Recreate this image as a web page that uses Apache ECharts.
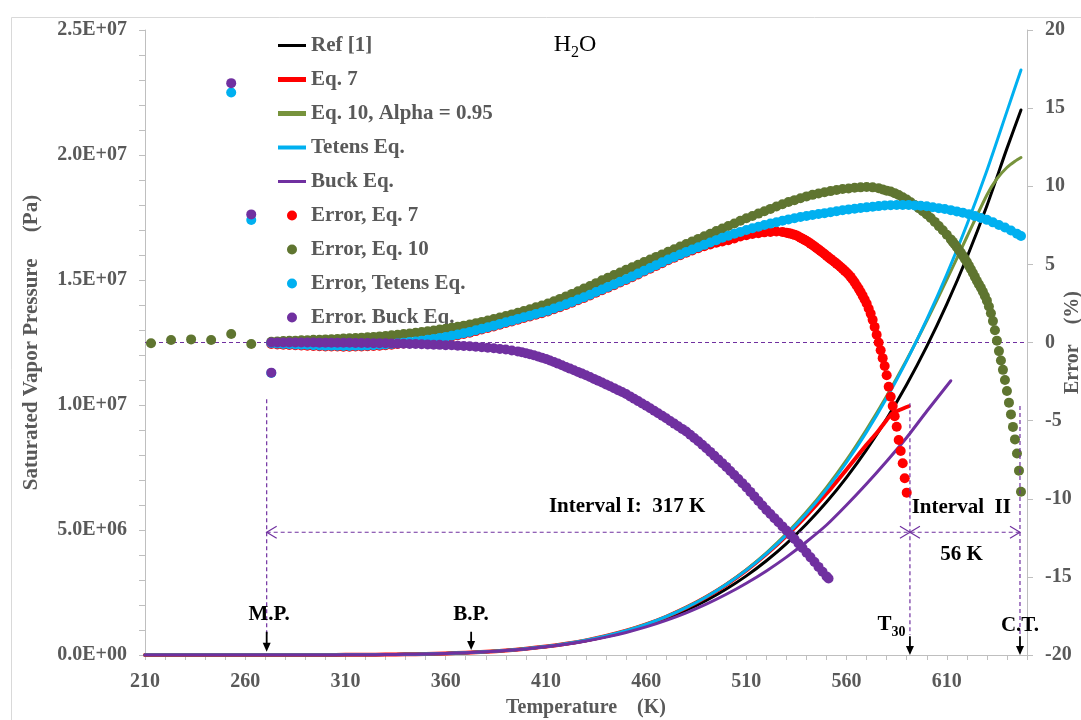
<!DOCTYPE html>
<html>
<head>
<meta charset="utf-8">
<title>H2O saturated vapor pressure</title>
<script src="https://cdn.jsdelivr.net/npm/echarts@6/dist/echarts.min.js"></script>
<style>
  html, body { margin: 0; padding: 0; background: #ffffff; }
  #chart { width: 1081px; height: 720px; }
</style>
</head>
<body>
<div id="chart"></div>
<script>
// ---------- Saturated vapor pressure curves, [T (K), P (Pa)] ----------
const refCurve = [[210,1],[220,3],[230,9],[240,27],[250,76],[260,196],[270,470],[280,990],[290,1920],[300,3537],[310,6230],[320,10550],[330,17200],[340,27190],[350,41680],[360,62200],[370,90600],[380,129000],[390,180000],[400,245800],[410,330300],[420,437000],[430,570000],[440,733700],[450,932000],[460,1170000],[470,1455000],[480,1791000],[490,2183000],[500,2639000],[510,3165000],[520,3769000],[530,4457000],[540,5237000],[550,6117000],[560,7106000],[570,8213000],[580,9448000],[590,10821000],[600,12345000],[610,14033000],[620,15901000],[630,17969000],[640,20265000],[647,21800000]];

const eq7Curve = [[210,1],[220,3],[230,9],[240,27],[250,76],[260,196],[270,469],[280,989],[290,1916],[300,3528],[310,6213],[320,10525],[330,17170],[340,27180],[350,41720],[360,62390],[370,91100],[380,130100],[390,182200],[400,249500],[410,336800],[420,447500],[430,586200],[440,758800],[450,969300],[460,1223600],[470,1530000],[480,1894000],[490,2318000],[500,2810500],[510,3382100],[520,4035500],[530,4769900],[540,5577400],[550,6459600],[560,7424300],[570,8418300],[575,8880000],[580,9400000],[583,9680000],[587,9820000],[591,9950000]];

const eq10Curve = [[210,1],[220,3],[230,9],[240,27],[250,76],[260,196],[270,471],[280,991],[290,1923],[300,3544],[310,6246],[320,10584],[330,17272],[340,27340],[350,41970],[360,62750],[370,91600],[380,130800],[390,183100],[400,250800],[410,338400],[420,449900],[430,590000],[440,763800],[450,975300],[460,1230800],[470,1538700],[480,1903800],[490,2332500],[500,2834300],[510,3416600],[520,4087500],[530,4855900],[540,5726700],[550,6707300],[560,7806000],[570,9031800],[580,10364500],[590,11811100],[600,13369600],[610,15015300],[620,16719900],[630,18400000],[635,19050000],[640,19500000],[644,19750000],[647,19900000]];

const tetensCurve = [[210,1],[220,3],[230,9],[240,27],[250,76],[260,196],[270,469],[280,989],[290,1917],[300,3530],[310,6216],[320,10530],[330,17180],[340,27190],[350,41740],[360,62420],[370,91150],[380,130200],[390,182300],[400,249900],[410,336900],[420,447700],[430,586800],[440,759400],[450,969700],[460,1224400],[470,1531400],[480,1894900],[490,2320500],[500,2818500],[510,3392900],[520,4053500],[530,4806800],[540,5661200],[550,6624700],[560,7710000],[570,8923400],[580,10277300],[590,11773200],[600,13421500],[610,15229000],[620,17212800],[630,19379600],[640,21744300],[647,23400000]];

const buckCurve = [[210,1],[220,3],[230,9],[240,27],[250,76],[260,196],[270,470],[280,990],[290,1920],[300,3537],[310,6229],[320,10547],[330,17190],[340,27170],[350,41630],[360,62090],[370,90420],[380,128700],[390,179200],[400,244200],[410,326500],[420,430000],[430,558000],[440,714000],[450,901200],[460,1122600],[470,1384400],[480,1688000],[490,2034000],[500,2429000],[510,2871000],[520,3364000],[530,3916000],[540,4530000],[550,5200000],[560,6000000],[570,6850000],[580,7750000],[590,8700000],[600,9750000],[612,10970000]];

// ---------- Relative errors, [T (K), error (%)] ----------
const errEq7 = [[273,-0.1],[276,-0.12],[279,-0.14],[282,-0.16],[285,-0.18],[288,-0.19],[291,-0.2],[294,-0.22],[297,-0.24],[300,-0.25],[303,-0.26],[306,-0.26],[309,-0.27],[312,-0.27],[315,-0.26],[318,-0.25],[321,-0.24],[324,-0.22],[327,-0.2],[330,-0.17],[333,-0.14],[336,-0.1],[339,-0.06],[342,-0.02],[345,0.02],[348,0.07],[351,0.12],[354,0.18],[357,0.24],[360,0.3],[363,0.38],[366,0.46],[369,0.54],[372,0.63],[375,0.73],[378,0.83],[381,0.93],[384,1.03],[387,1.14],[390,1.25],[393,1.35],[396,1.46],[399,1.57],[402,1.67],[405,1.78],[408,1.88],[411,1.99],[414,2.13],[417,2.26],[420,2.4],[423,2.55],[426,2.7],[429,2.85],[432,3.01],[435,3.18],[438,3.34],[441,3.51],[444,3.67],[447,3.84],[450,4.0],[453,4.18],[456,4.36],[459,4.54],[462,4.72],[465,4.9],[468,5.08],[471,5.26],[474,5.42],[477,5.59],[480,5.75],[483,5.89],[486,6.03],[489,6.16],[492,6.27],[495,6.38],[498,6.46],[501,6.54],[504,6.66],[507,6.78],[510,6.86],[513,6.94],[516,7.0],[519,7.05],[522,7.08],[525,7.1],[528,7.08],[530,7.03],[531,7.0],[532,6.97],[533,6.93],[534,6.89],[535,6.85],[536,6.78],[537,6.71],[538,6.64],[539,6.57],[540,6.5],[541,6.42],[542,6.33],[543,6.24],[544,6.15],[545,6.05],[546,5.96],[547,5.86],[548,5.76],[549,5.66],[550,5.55],[551,5.45],[552,5.35],[553,5.25],[554,5.15],[555,5.05],[556,4.94],[557,4.83],[558,4.72],[559,4.6],[560,4.48],[561,4.35],[562,4.2],[563,4.03],[564,3.85],[565,3.65],[566,3.45],[567,3.23],[568,3.0],[569,2.75],[570,2.5],[571,2.18],[572,1.85],[573,1.45],[574,1.0],[575,0.5],[576,0.0],[577,-0.5],[578,-1.0],[579,-1.5],[580,-2.1],[581,-2.83],[582,-3.47],[583,-4.06],[584,-4.72],[585,-5.39],[586,-6.24],[587,-6.94],[588,-7.73],[589,-8.69],[590,-9.61]];

const errEq10 = [[213,-0.05],[223,0.16],[233,0.2],[243,0.16],[253,0.54],[263,-0.1],[273,0.05],[276,0.07],[279,0.09],[282,0.11],[285,0.12],[288,0.14],[291,0.15],[294,0.17],[297,0.18],[300,0.2],[303,0.21],[306,0.23],[309,0.25],[312,0.27],[315,0.29],[318,0.31],[321,0.33],[324,0.36],[327,0.39],[330,0.42],[333,0.46],[336,0.5],[339,0.54],[342,0.58],[345,0.62],[348,0.67],[351,0.72],[354,0.77],[357,0.83],[360,0.88],[363,0.95],[366,1.01],[369,1.08],[372,1.15],[375,1.23],[378,1.32],[381,1.41],[384,1.5],[387,1.6],[390,1.7],[393,1.8],[396,1.9],[399,2.01],[402,2.13],[405,2.25],[408,2.37],[411,2.5],[414,2.64],[417,2.79],[420,2.95],[423,3.11],[426,3.28],[429,3.45],[432,3.62],[435,3.8],[438,3.98],[441,4.15],[444,4.32],[447,4.48],[450,4.65],[453,4.82],[456,4.98],[459,5.15],[462,5.31],[465,5.48],[468,5.64],[471,5.81],[474,5.97],[477,6.14],[480,6.3],[483,6.47],[486,6.63],[489,6.8],[492,6.96],[495,7.13],[498,7.29],[501,7.46],[504,7.62],[507,7.79],[510,7.95],[513,8.1],[516,8.25],[519,8.4],[522,8.55],[525,8.7],[528,8.85],[531,8.99],[534,9.11],[537,9.23],[540,9.35],[543,9.45],[546,9.54],[549,9.62],[552,9.69],[555,9.76],[558,9.82],[561,9.86],[564,9.9],[567,9.93],[570,9.95],[573,9.93],[576,9.87],[578,9.8],[580,9.72],[582,9.66],[584,9.56],[586,9.44],[588,9.3],[590,9.15],[592,8.98],[594,8.8],[596,8.6],[598,8.4],[600,8.2],[602,7.97],[604,7.72],[606,7.45],[608,7.18],[610,6.9],[612,6.6],[613,6.44],[614,6.27],[615,6.1],[616,5.92],[617,5.74],[618,5.55],[619,5.35],[620,5.15],[621,4.92],[622,4.69],[623,4.45],[624,4.2],[625,3.95],[626,3.72],[627,3.5],[628,3.25],[629,2.98],[630,2.68],[631,2.3],[632,1.87],[633,1.37],[634,0.78],[635,0.12],[636,-0.55],[637,-1.15],[638,-1.75],[639,-2.4],[640,-3.1],[641,-3.85],[642,-4.6],[643,-5.4],[644,-6.2],[645,-7.1],[646,-8.2],[647,-9.55]];

const errTetens = [[253,16.0],[263,7.84],[273,-1.95],[273,-0.05],[276,-0.07],[279,-0.09],[282,-0.11],[285,-0.13],[288,-0.14],[291,-0.15],[294,-0.17],[297,-0.19],[300,-0.2],[303,-0.21],[306,-0.21],[309,-0.22],[312,-0.22],[315,-0.21],[318,-0.2],[321,-0.19],[324,-0.17],[327,-0.15],[330,-0.12],[333,-0.09],[336,-0.05],[339,-0.01],[342,0.03],[345,0.07],[348,0.12],[351,0.17],[354,0.23],[357,0.29],[360,0.35],[363,0.43],[366,0.51],[369,0.59],[372,0.68],[375,0.78],[378,0.88],[381,0.98],[384,1.08],[387,1.19],[390,1.3],[393,1.4],[396,1.51],[399,1.62],[402,1.72],[405,1.83],[408,1.93],[411,2.04],[414,2.18],[417,2.31],[420,2.45],[423,2.6],[426,2.75],[429,2.9],[432,3.06],[435,3.23],[438,3.39],[441,3.56],[444,3.72],[447,3.89],[450,4.05],[453,4.23],[456,4.41],[459,4.59],[462,4.77],[465,4.95],[468,5.13],[471,5.31],[474,5.47],[477,5.64],[480,5.8],[483,5.95],[486,6.1],[489,6.25],[492,6.4],[495,6.55],[498,6.7],[501,6.84],[504,6.96],[507,7.08],[510,7.2],[513,7.31],[516,7.41],[519,7.52],[522,7.61],[525,7.7],[528,7.79],[531,7.88],[534,7.95],[537,8.03],[540,8.1],[543,8.16],[546,8.22],[549,8.28],[552,8.34],[555,8.4],[558,8.46],[561,8.52],[564,8.56],[567,8.61],[570,8.65],[573,8.69],[576,8.73],[579,8.77],[582,8.79],[585,8.8],[588,8.8],[591,8.8],[594,8.77],[597,8.75],[600,8.72],[603,8.66],[606,8.6],[609,8.54],[612,8.47],[615,8.39],[618,8.31],[621,8.21],[624,8.09],[627,7.97],[630,7.85],[633,7.69],[636,7.52],[639,7.36],[642,7.17],[645,6.96],[647,6.82]];

const errBuck = [[253,16.6],[263,8.2],[273,-1.93],[273,0.0],[276,0.0],[279,0.0],[282,0.0],[285,0.0],[288,0.0],[291,0.0],[294,0.0],[297,-0.01],[300,-0.01],[303,-0.01],[306,-0.02],[309,-0.02],[312,-0.02],[315,-0.03],[318,-0.03],[321,-0.03],[324,-0.04],[327,-0.04],[330,-0.05],[333,-0.06],[336,-0.07],[339,-0.08],[342,-0.09],[345,-0.1],[348,-0.11],[351,-0.12],[354,-0.14],[357,-0.15],[360,-0.17],[363,-0.18],[366,-0.2],[369,-0.22],[372,-0.24],[375,-0.27],[378,-0.3],[381,-0.33],[384,-0.37],[387,-0.41],[390,-0.45],[393,-0.51],[396,-0.57],[398,-0.62],[400,-0.68],[402,-0.75],[404,-0.82],[406,-0.89],[408,-0.97],[410,-1.05],[412,-1.15],[414,-1.25],[416,-1.35],[418,-1.46],[420,-1.57],[422,-1.67],[424,-1.78],[426,-1.88],[428,-1.99],[430,-2.1],[432,-2.21],[434,-2.33],[436,-2.44],[438,-2.56],[440,-2.68],[442,-2.8],[444,-2.92],[446,-3.05],[448,-3.17],[450,-3.3],[452,-3.45],[454,-3.6],[456,-3.75],[458,-3.9],[460,-4.05],[462,-4.21],[464,-4.37],[466,-4.53],[468,-4.69],[470,-4.85],[472,-5.02],[474,-5.19],[476,-5.36],[478,-5.53],[480,-5.7],[482,-5.9],[484,-6.11],[486,-6.32],[488,-6.54],[490,-6.77],[492,-7.0],[494,-7.24],[496,-7.48],[498,-7.72],[500,-7.96],[502,-8.22],[504,-8.48],[506,-8.74],[508,-9.0],[510,-9.27],[512,-9.56],[514,-9.85],[516,-10.14],[518,-10.43],[520,-10.72],[522,-10.98],[524,-11.24],[526,-11.5],[528,-11.77],[530,-12.03],[532,-12.3],[534,-12.58],[536,-12.86],[538,-13.15],[540,-13.45],[542,-13.75],[544,-14.05],[546,-14.36],[548,-14.67],[550,-14.97],[551,-15.1]];

// ---------- Axis ticks ----------
const tempTicks = { min: 210, max: 650, major: 50, minor: 10 };
const pressTicks = { min: 0, max: 25000000, major: 5000000 };
const errTicks = { min: -20, max: 20, major: 5 };

// ---------- Reference temperatures (K) and guide levels (Pa) ----------
const MELT_T = 270.7, BOIL_T = 372.7, T30_T = 591.6, CRIT_T = 646.5;
const INTERVAL_P = 4.91e6;

// ---------- Styling ----------
const SERIF = "'Liberation Serif', 'Times New Roman', serif";
const GRAY = '#595959';
const AXIS_GRAY = '#BFBFBF';
const GUIDE = '#7030A0';
const C_RED = '#FF0000', C_OLIVE_LINE = '#77933C', C_OLIVE_DOT = '#5F7530', C_CYAN = '#00B0F0', C_PURPLE = '#7030A0';

function sciLabel(v) {
  if (v === 0) return '0.0E+00';
  const e = Math.floor(Math.log10(Math.abs(v)) + 1e-9);
  const m = v / Math.pow(10, e);
  return m.toFixed(1) + 'E+' + String(e).padStart(2, '0');
}

function lineSeries(name, data, color, width) {
  return {
    name, type: 'line', data, xAxisIndex: 0, yAxisIndex: 0,
    symbol: 'none', smooth: 0.25,
    lineStyle: { color, width, cap: 'round', join: 'round' }, itemStyle: { color },
    silent: true, z: 2
  };
}
function errSeries(name, data, color, z) {
  return {
    name, type: 'scatter', data, xAxisIndex: 0, yAxisIndex: 1,
    symbol: 'circle', symbolSize: 10,
    itemStyle: { color, opacity: 1 }, silent: true, z
  };
}

// Zero-error reference line, drawn against the error axis
function renderZeroLine(params, api) {
  if (params.dataIndex !== 0) return;
  const a = api.coord([tempTicks.min, 0]);
  const b = api.coord([tempTicks.max, 0]);
  return {
    type: 'line', shape: { x1: a[0], y1: a[1], x2: b[0], y2: b[1] },
    style: { stroke: GUIDE, lineWidth: 1, lineDash: [4, 3] }
  };
}

// Melting / boiling / T30 / critical markers and the two temperature intervals
function renderGuides(params, api) {
  if (params.dataIndex !== 0) return;
  const c = (t, p) => api.coord([t, p]);
  const kids = [];
  const dash = { stroke: GUIDE, lineWidth: 1.2, lineDash: [4, 3], fill: null };
  const solid = { stroke: GUIDE, lineWidth: 1.2, fill: null };

  [[MELT_T, 10.23e6], [T30_T, 10.07e6], [CRIT_T, 9.96e6]].forEach(([t, top]) => {
    const a = c(t, top), b = c(t, 0.8e6);
    kids.push({ type: 'line', shape: { x1: a[0], y1: a[1], x2: b[0], y2: b[1] }, style: dash });
  });

  // interval arrows with open chevron heads
  const y0 = c(MELT_T, INTERVAL_P)[1];
  const xm = c(MELT_T, 0)[0], xt = c(T30_T, 0)[0], xc = c(CRIT_T, 0)[0];
  kids.push({ type: 'line', shape: { x1: xm, y1: y0, x2: xc, y2: y0 }, style: dash });
  const chev = (x, dir) => ({ type: 'polyline', shape: { points: [[x + dir * 10, y0 - 6], [x, y0], [x + dir * 10, y0 + 6]] }, style: solid });
  kids.push(chev(xm, 1), chev(xt, -1), chev(xt, 1), chev(xc, -1));

  // black down arrows
  [[MELT_T, 0.93e6, 0.13e6], [BOIL_T, 0.93e6, 0.2e6], [T30_T, 0.75e6, 0], [CRIT_T, 0.75e6, 0]].forEach(([t, p1, p2]) => {
    const a = c(t, p1), b = c(t, p2);
    kids.push({ type: 'line', shape: { x1: a[0], y1: a[1], x2: b[0], y2: b[1] - 6 }, style: { stroke: '#000', lineWidth: 1.8 } });
    kids.push({ type: 'polygon', shape: { points: [[b[0], b[1]], [b[0] - 4, b[1] - 9], [b[0] + 4, b[1] - 9]] }, style: { fill: '#000' } });
  });

  const label = (t, p, text) => {
    const q = c(t, p);
    return { type: 'text', x: q[0], y: q[1], style: {
      text, fill: '#000', font: 'bold 21px ' + SERIF,
      align: 'center', verticalAlign: 'middle' } };
  };
  kids.push(label(450.5, 5.92e6, 'Interval I:  317 K'));
  kids.push(label(617.2, 5.88e6, 'Interval  II'));
  kids.push(label(617.4, 4.0e6, '56 K'));
  kids.push(label(271.9, 1.6e6, 'M.P.'));
  kids.push(label(372.6, 1.6e6, 'B.P.'));
  kids.push(label(646.5, 1.16e6, 'C.T.'));

  // subscripted labels
  const sub = (t, p, main1, subTxt, main2, size, weight) => {
    const q = c(t, p);
    return { type: 'text', x: q[0], y: q[1], style: {
      text: '{m|' + main1 + '}{s|' + subTxt + '}' + (main2 ? '{m|' + main2 + '}' : ''),
      align: 'center', verticalAlign: 'middle',
      rich: {
        m: { fill: '#000', color: '#000', fontFamily: SERIF, fontWeight: weight, fontSize: size, lineHeight: size + 8, verticalAlign: 'middle' },
        s: { fill: '#000', color: '#000', fontFamily: SERIF, fontWeight: weight, fontSize: Math.round(size * 0.65), lineHeight: size + 8, verticalAlign: 'bottom' }
      } } };
  };
  kids.push(sub(582.4, 1.2e6, 'T', '30', '', 21, 'bold'));
  kids.push(sub(424.5, 24.4e6, 'H', '2', 'O', 24, 'normal'));

  return { type: 'group', children: kids };
}

const chart = echarts.init(document.getElementById('chart'), null, { renderer: 'canvas' });

const lineIcon = w => 'path://M0,0H28V' + w + 'H0Z';
const legendItems = [
  { name: 'Ref [1]', icon: lineIcon(3) },
  { name: 'Eq. 7', icon: lineIcon(5) },
  { name: 'Eq. 10, Alpha = 0.95', icon: lineIcon(5) },
  { name: 'Tetens Eq.', icon: lineIcon(4) },
  { name: 'Buck Eq.', icon: lineIcon(3) },
  { name: 'Error, Eq. 7', icon: 'circle' },
  { name: 'Error, Eq. 10', icon: 'circle' },
  { name: 'Error, Tetens Eq.', icon: 'circle' },
  { name: 'Error. Buck Eq.', icon: 'circle' }
];

chart.setOption({
  animation: false,
  backgroundColor: '#ffffff',
  graphic: [{
    type: 'rect', left: 9, top: 15, silent: true, z: -10,
    shape: { width: 1100, height: 800 },
    style: { fill: null, stroke: '#D9D9D9', lineWidth: 1 }
  }],
  grid: { left: 145, right: 54, top: 30, bottom: 65, containLabel: false, outerBoundsMode: 'none' },
  legend: {
    data: legendItems, orient: 'vertical', left: 278, top: 35, padding: 0,
    itemWidth: 28, itemHeight: 10, itemGap: 13,
    textStyle: { fontFamily: SERIF, fontWeight: 'bold', fontSize: 21, color: GRAY, lineHeight: 20 },
    selectedMode: false
  },
  xAxis: [{
    type: 'value', min: tempTicks.min, max: tempTicks.max, interval: tempTicks.major,
    name: 'Temperature    (K)', nameLocation: 'middle', nameGap: 43, nameMoveOverlap: false,
    nameTextStyle: { fontFamily: SERIF, fontWeight: 'bold', fontSize: 20, color: GRAY },
    axisLine: { show: true, onZero: false, lineStyle: { color: AXIS_GRAY, width: 1 } },
    axisTick: { show: false },
    axisLabel: { show: true, margin: 17, showMaxLabel: false, fontFamily: SERIF, fontWeight: 'bold', fontSize: 20, color: GRAY },
    splitLine: { show: false }
  }, {
    type: 'value', min: tempTicks.min, max: tempTicks.max, interval: tempTicks.minor, position: 'bottom',
    axisLine: { show: false }, axisLabel: { show: false }, splitLine: { show: false },
    axisTick: { show: true, length: 5, lineStyle: { color: AXIS_GRAY, width: 1 } }
  }],
  yAxis: [{
    type: 'value', min: pressTicks.min, max: pressTicks.max, interval: pressTicks.major,
    position: 'left',
    name: 'Saturated Vapor Pressure     (Pa)', nameLocation: 'middle', nameGap: 103, nameRotate: 90, nameMoveOverlap: false,
    nameTextStyle: { fontFamily: SERIF, fontWeight: 'bold', fontSize: 21, color: GRAY },
    axisLine: { show: true, onZero: false, lineStyle: { color: AXIS_GRAY, width: 1 } },
    axisTick: { show: true, length: 6, lineStyle: { color: AXIS_GRAY } },
    minorTick: { show: true, splitNumber: 5, length: 6, lineStyle: { color: AXIS_GRAY } },
    axisLabel: { margin: 18, formatter: sciLabel, fontFamily: SERIF, fontWeight: 'bold', fontSize: 20, color: GRAY },
    splitLine: { show: false }, minorSplitLine: { show: false }
  }, {
    type: 'value', min: errTicks.min, max: errTicks.max, interval: errTicks.major,
    position: 'right',
    name: 'Error    (%)', nameLocation: 'middle', nameGap: 36, nameRotate: 90, nameMoveOverlap: false,
    nameTextStyle: { fontFamily: SERIF, fontWeight: 'bold', fontSize: 20, color: GRAY },
    axisLine: { show: true, onZero: false, lineStyle: { color: AXIS_GRAY, width: 1 } },
    axisTick: { show: true, length: 6, lineStyle: { color: AXIS_GRAY } },
    axisLabel: { margin: 18, fontFamily: SERIF, fontWeight: 'bold', fontSize: 20, color: GRAY },
    splitLine: { show: false }
  }],
  series: [
    {
      name: 'zero-error', type: 'custom', xAxisIndex: 0, yAxisIndex: 1,
      data: [[tempTicks.min, 0]], renderItem: renderZeroLine, silent: true, z: 1
    },
    lineSeries('Ref [1]', refCurve, '#000000', 3),
    lineSeries('Eq. 7', eq7Curve, C_RED, 4),
    lineSeries('Eq. 10, Alpha = 0.95', eq10Curve, C_OLIVE_LINE, 3),
    lineSeries('Tetens Eq.', tetensCurve, C_CYAN, 3),
    lineSeries('Buck Eq.', buckCurve, C_PURPLE, 3),
    errSeries('Error, Eq. 7', errEq7, C_RED, 3),
    errSeries('Error, Eq. 10', errEq10, C_OLIVE_DOT, 4),
    errSeries('Error, Tetens Eq.', errTetens, C_CYAN, 5),
    errSeries('Error. Buck Eq.', errBuck, C_PURPLE, 6),
    {
      name: 'guides', type: 'custom', xAxisIndex: 0, yAxisIndex: 0,
      data: [[tempTicks.min, 0]], renderItem: renderGuides, silent: true, z: 8, clip: false
    }
  ]
});
</script>
</body>
</html>
